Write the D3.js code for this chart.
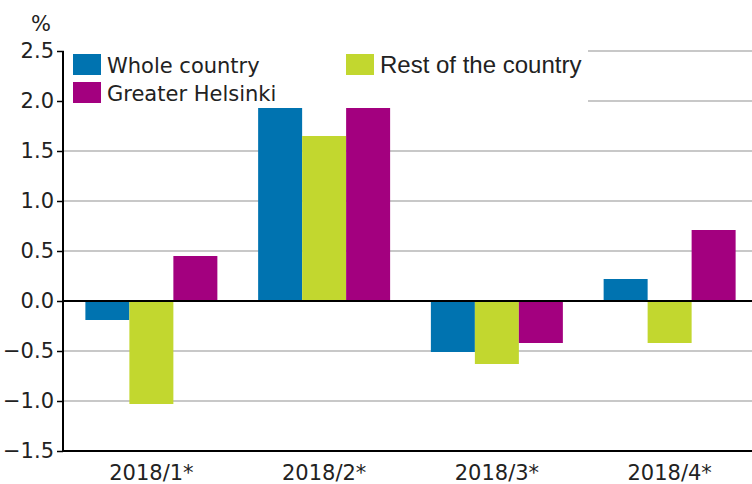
<!DOCTYPE html>
<html><head><meta charset="utf-8">
<script src="https://cdn.jsdelivr.net/npm/d3@7"></script>
<style>body{margin:0;background:#fff}svg{display:block}text{font-family:"DejaVu Sans",Verdana,sans-serif;fill:#222}</style>
</head><body>
<svg id="c" width="752" height="484"></svg>
<script>
const categories = ["2018/1*","2018/2*","2018/3*","2018/4*"];
const seriesNames = ["Whole country","Rest of the country","Greater Helsinki"];
const wholeCountry = [-0.19, 1.93, -0.51, 0.22];
const restOfCountry = [-1.03, 1.65, -0.63, -0.42];
const greaterHelsinki = [0.45, 1.93, -0.42, 0.71];
const yTicks = [-1.5,-1.0,-0.5,0.0,0.5,1.0,1.5,2.0,2.5];
const colors = ["#0073b0","#c2d72f","#a3007f"];

const series = [wholeCountry, restOfCountry, greaterHelsinki];
const svg = d3.select("#c");
const W = 752, plotLeft = 63, plotTop = 51, plotBottom = 451;
const y = d3.scaleLinear().domain([-1.5,2.5]).range([plotBottom, plotTop]);
const x0 = d3.scaleBand().domain(categories).range([65,756]).paddingInner(0.236).paddingOuter(0.118);
const x1 = d3.scaleBand().domain(d3.range(3)).range([0, x0.bandwidth()]);

// gridlines
svg.append("g").selectAll("line").data(yTicks.filter(t=>t!==0 && t!==-1.5)).join("line")
  .attr("x1", plotLeft).attr("x2", W).attr("y1", d=>y(d)).attr("y2", d=>y(d))
  .attr("stroke","#c8c8c8").attr("stroke-width",2);

// bars
const g = svg.append("g");
categories.forEach((c,i)=>{
  series.forEach((s,j)=>{
    const v = s[i];
    g.append("rect")
      .attr("x", x0(c)+x1(j)).attr("width", x1.bandwidth())
      .attr("y", y(Math.max(0,v))).attr("height", Math.abs(y(v)-y(0)))
      .attr("fill", colors[j]);
  });
});

// legend background
const lg = svg.append("g");
lg.append("rect").attr("x", plotLeft+1).attr("y", 40).attr("width", 524).attr("height", 66).attr("fill","#fff");
const legendPos = [[73,54],[346,54],[73,82]];
seriesNames.forEach((n,j)=>{
  const [lx,ly] = legendPos[j];
  lg.append("rect").attr("x",lx).attr("y",ly).attr("width",28).attr("height",21).attr("fill",colors[j]);
  lg.append("text").attr("x",lx+34).attr("y",ly+19).attr("font-size", j===1?"24px":"21px")
    .style("font-family", j===1 ? "'Liberation Sans',Arial,sans-serif" : null)
    .text(n);
});

// zero line
svg.append("line").attr("x1",plotLeft).attr("x2",W).attr("y1",y(0)).attr("y2",y(0)).attr("stroke","#000").attr("stroke-width",2);

// y axis
const ya = svg.append("g").attr("transform",`translate(${plotLeft},0)`)
  .call(d3.axisLeft(y).tickValues(yTicks).tickFormat(d3.format(".1f")).tickSize(6).tickPadding(3));
ya.select(".domain").remove();
ya.selectAll(".tick line").attr("stroke","#000").attr("stroke-width",1.5);
ya.selectAll("text").attr("font-size","21px").attr("fill","#222").style("font-family","'DejaVu Sans',Verdana,sans-serif");
svg.append("line").attr("x1",plotLeft).attr("x2",plotLeft).attr("y1",plotTop).attr("y2",plotBottom+1).attr("stroke","#000").attr("stroke-width",2);

// x axis
svg.append("line").attr("x1",plotLeft).attr("x2",W).attr("y1",plotBottom).attr("y2",plotBottom).attr("stroke","#000").attr("stroke-width",2);
const xa = svg.append("g").attr("transform",`translate(0,${plotBottom})`)
  .call(d3.axisBottom(x0).tickSize(0).tickPadding(14));
xa.select(".domain").remove();
xa.selectAll("text").attr("font-size","21px").attr("fill","#222").style("font-family","'DejaVu Sans',Verdana,sans-serif");

// unit
svg.append("text").attr("x",41).attr("y",31).attr("text-anchor","middle").attr("font-size","21px").text("%");
</script>
</body></html>
